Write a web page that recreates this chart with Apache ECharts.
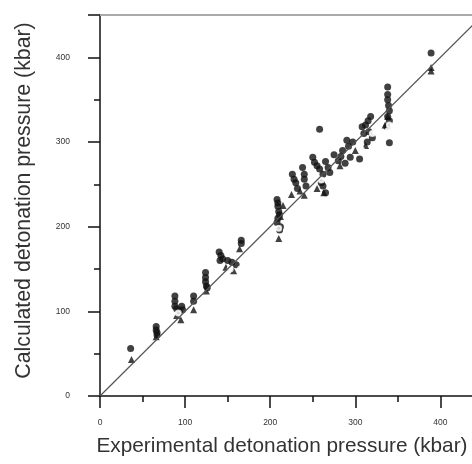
<!DOCTYPE html>
<html>
<head>
<meta charset="utf-8">
<script src="https://cdn.jsdelivr.net/npm/echarts@6/dist/echarts.min.js"></script>
<style>
  html, body { margin: 0; padding: 0; background: #fff; }
  #chart { width: 472px; height: 464px; }
</style>
</head>
<body>
<div id="chart"></div>
<script>
// experimental vs calculated detonation pressure (kbar)
const filledPoints = [
  [36, 56], [66, 82], [66, 78], [67, 75], [67, 72], [88, 118], [88, 112], [88, 106], [90, 103], [93, 100], [96, 106], [97, 102],
  [110, 118], [110, 112], [124, 146], [124, 140], [124, 135], [125, 130], [126, 128],
  [140, 170], [142, 166], [144, 162], [141, 160], [150, 160], [155, 158], [160, 155], [166, 184], [166, 180],
  [208, 232], [209, 228], [209, 224], [210, 218], [211, 214], [209, 210], [208, 205], [212, 200], [211, 196],
  [226, 262], [228, 256], [230, 252], [232, 245], [238, 270], [240, 262], [240, 256], [242, 248],
  [250, 282], [252, 276], [255, 272], [258, 268], [258, 315], [262, 262], [265, 277], [260, 252], [262, 248], [265, 240],
  [268, 270], [270, 264], [275, 285], [280, 278], [283, 283], [285, 290], [290, 302], [292, 295], [288, 275], [297, 300], [294, 282],
  [305, 280], [308, 318], [310, 310], [312, 320], [315, 325], [318, 330], [320, 305], [314, 300], [316, 312],
  [338, 365], [338, 356], [338, 350], [339, 343], [340, 337], [338, 330], [340, 325], [337, 318], [340, 299], [389, 405]
];
const trianglePoints = [
  [37, 43], [66, 70], [90, 95], [95, 90], [110, 102], [125, 124], [148, 152], [157, 148],
  [164, 174], [210, 186], [212, 212], [215, 225], [225, 238], [235, 242], [240, 237],
  [255, 245], [263, 240], [282, 272], [300, 290], [312, 296], [335, 320], [338, 330], [389, 388], [389, 384]
];
const openPoints = [
  [92, 98], [153, 150], [165, 150], [210, 198], [260, 255], [279, 259], [307, 291],
  [320, 310], [338, 313], [340, 320], [389, 375]
];
const parityLine = [[0, 0], [450, 450]];
const axisMax = 450;
const tickStep = 100;

const chart = echarts.init(document.getElementById('chart'), null, { renderer: 'canvas' });

const LABEL = { color: '#333', fontSize: 8.5, fontFamily: 'Liberation Sans, Arial, sans-serif' };
const NAME = { color: '#333', fontFamily: 'Liberation Sans, Arial, sans-serif' };
const TICK = { color: '#111', width: 1.5 };
const hideOdd = (v) => (v % tickStep === 0 ? String(v) : '');

chart.setOption({
  animation: false,
  // the original figure is cropped on the right, so the grid runs past the canvas edge
  grid: { left: 100, right: -11, top: 15, bottom: 68, outerBoundsMode: 'none' },
  xAxis: [{
    type: 'value', min: 0, max: axisMax, interval: tickStep,
    name: 'Experimental detonation pressure (kbar)', nameLocation: 'middle', nameGap: 40,
    nameTextStyle: { ...NAME, fontSize: 20.8, padding: [0, 19, 0, 0] },
    axisLine: { lineStyle: TICK },
    axisTick: { length: 12, lineStyle: TICK },
    minorTick: { show: true, splitNumber: 2, length: 6, lineStyle: TICK },
    axisLabel: { ...LABEL, margin: 22, formatter: hideOdd },
    splitLine: { show: false }
  }, {
    type: 'value', min: 0, max: axisMax, position: 'top',
    axisLine: { lineStyle: { color: '#aaa', width: 2 } },
    axisTick: { show: false }, axisLabel: { show: false }, splitLine: { show: false }
  }],
  yAxis: {
    type: 'value', min: 0, max: axisMax, interval: tickStep,
    name: 'Calculated detonation pressure (kbar)', nameLocation: 'middle', nameGap: 65,
    nameTextStyle: { ...NAME, fontSize: 21.3, padding: [0, 0, 0, 10] },
    axisLine: { lineStyle: TICK },
    axisTick: { length: 12, lineStyle: TICK },
    minorTick: { show: true, splitNumber: 2, length: 6, lineStyle: TICK },
    axisLabel: { ...LABEL, margin: 30, formatter: hideOdd },
    splitLine: { show: false }
  },
  series: [
    {
      type: 'line', data: parityLine, symbol: 'none', silent: true,
      lineStyle: { color: '#555', width: 1.2 }
    },
    {
      type: 'scatter', data: filledPoints, symbol: 'circle', symbolSize: 7,
      itemStyle: { color: '#111' }
    },
    {
      type: 'scatter', data: trianglePoints, symbol: 'triangle', symbolSize: 7,
      itemStyle: { color: '#111' }
    },
    {
      type: 'scatter', data: openPoints, symbol: 'emptyCircle', symbolSize: 5,
      itemStyle: { color: '#fff', borderColor: '#777', borderWidth: 1.3 }
    }
  ]
});
</script>
</body>
</html>
